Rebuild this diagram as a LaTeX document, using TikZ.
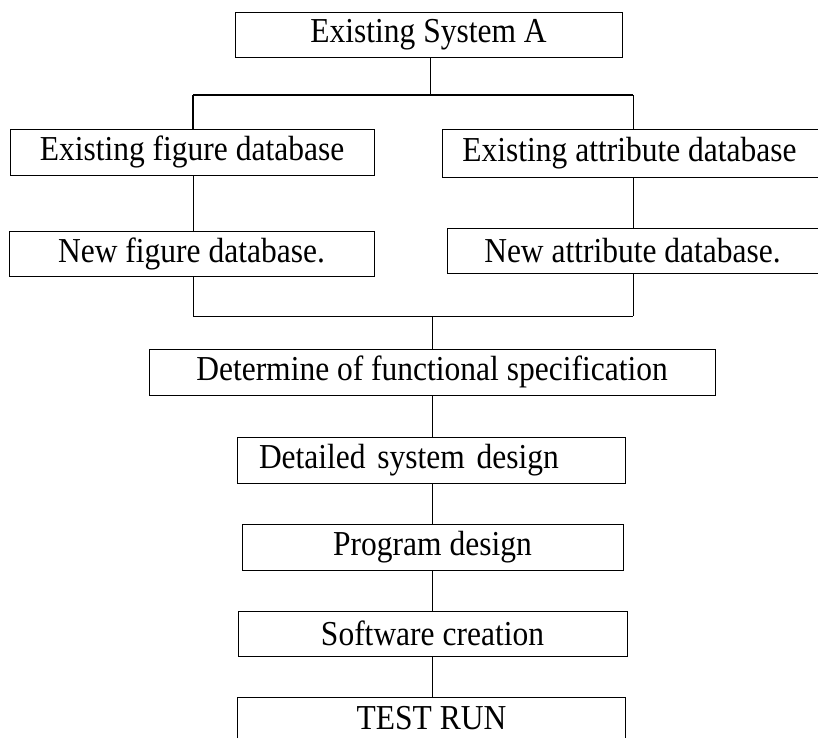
\documentclass[tikz,border=0pt]{standalone}
\usepackage{fontspec}
\setmainfont{Liberation Serif}[FakeStretch=0.9]
\begin{document}
\begin{tikzpicture}[x=1pt,y=-1pt,
  label font/.style={font=\fontsize{35}{38}\selectfont},
  box/.style={draw, line width=0.9pt, rectangle, inner sep=0pt, label font},
  openbox/.style={rectangle, inner sep=0pt, label font},
  link/.style={line width=0.9pt}]
\useasboundingbox (0,0) rectangle (818,738);

% process boxes
\node[box, minimum width=387, minimum height=45] (A) at (428.5,34.5) {Existing System A};
\node[box, minimum width=364, minimum height=46] (B) at (192,152) {Existing figure database};
\node[box, minimum width=388, minimum height=48] (C) at (636,153) {\hspace*{-13pt}Existing attribute database};
\node[box, minimum width=365, minimum height=45] (D) at (191.5,253.5) {New figure database.};
\node[box, minimum width=383, minimum height=45] (E) at (638.5,250.5) {\hspace*{-12pt}New attribute database.};
\node[box, minimum width=566, minimum height=46] (F) at (432,372) {Determine of functional specification};
\node[box, minimum width=388, minimum height=46, text width=388, align=left] (G) at (431,460) {\hspace*{22pt}Detailed system design};
\node[box, minimum width=381, minimum height=46] (H) at (432.5,547) {Program design};
\node[box, minimum width=389, minimum height=45] (I) at (432.5,633.5) {Software creation};
% last box runs off the lower edge: only its top and sides are drawn
\node[openbox, minimum width=387, minimum height=40] (J) at (431.5,718) {TEST RUN};
\draw[line width=0.9pt] (J.south west) -- (J.north west) -- (J.north east) -- (J.south east);

% branching points
\coordinate (t1) at (430,95);
\coordinate (bl) at (193,95);
\coordinate (br) at (633,95);
\coordinate (ml) at (193,316);
\coordinate (mr) at (633,316);
\coordinate (mc) at (432,316);

% split from the existing system
\draw[link] (A.south -| t1) -- (t1);
\draw[link, line width=1.2pt] (bl) -- (br);
\draw[link, line width=1.2pt] (bl) -- (bl |- B.north);
\draw[link] (br) -- (br |- C.north);

% database columns
\draw[link] (B.south -| bl) -- (D.north -| bl);
\draw[link] (C.south -| br) -- (E.north -| br);

% merge into the specification
\draw[link] (D.south -| ml) -- (ml);
\draw[link] (E.south -| mr) -- (mr);
\draw[link] (ml) -- (mr);
\draw[link] (mc) -- (F.north -| mc);

% sequential stages
\draw[link] (F.south -| mc) -- (G.north -| mc);
\draw[link] (G.south -| mc) -- (H.north -| mc);
\draw[link] (H.south -| mc) -- (I.north -| mc);
\draw[link] (I.south -| mc) -- (J.north -| mc);
\end{tikzpicture}
\end{document}
